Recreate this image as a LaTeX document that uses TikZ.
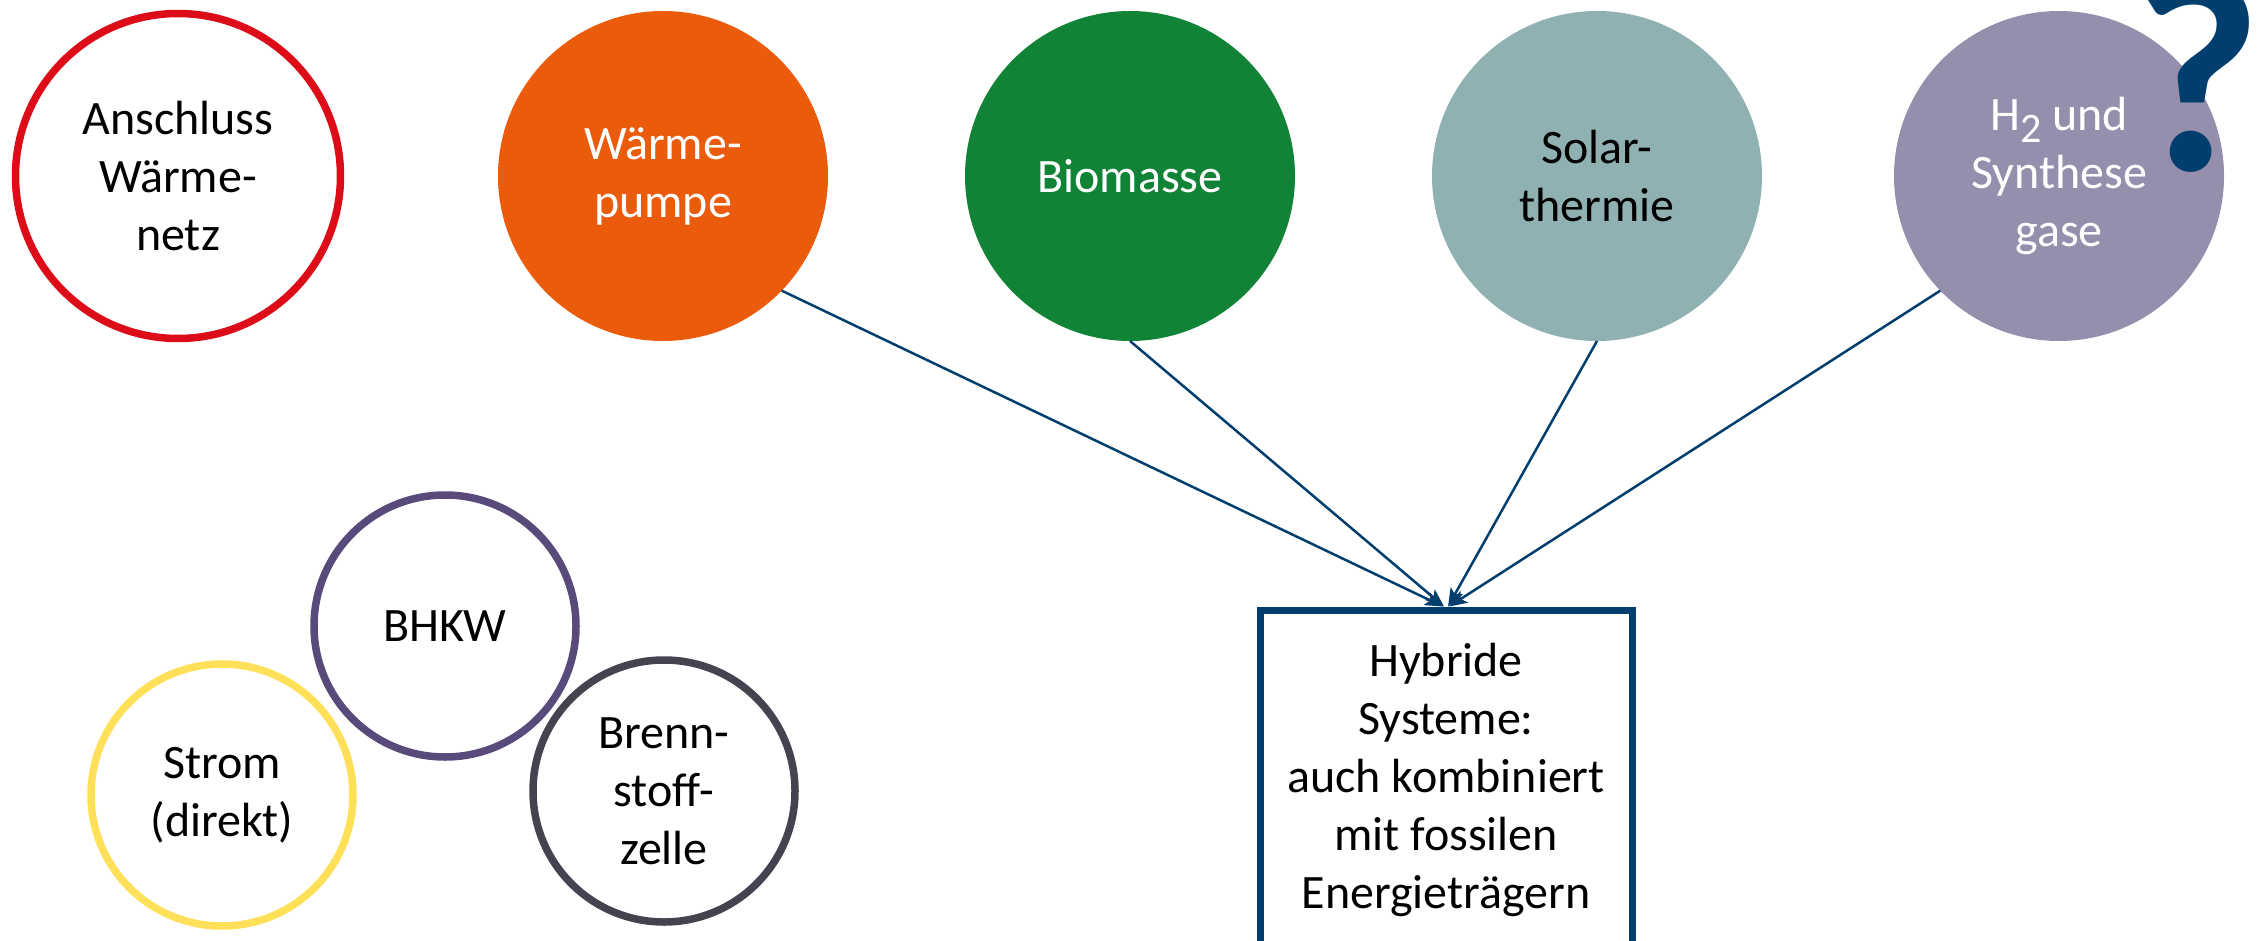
\documentclass[tikz,border=0pt]{standalone}
\usepackage{fontspec}
\setmainfont{Carlito}
\usetikzlibrary{arrows.meta}
\definecolor{cred}{RGB}{220,12,24}
\definecolor{corange}{RGB}{234,91,12}
\definecolor{cgreen}{RGB}{17,131,55}
\definecolor{csolar}{RGB}{143,177,178}
\definecolor{cpurple}{RGB}{149,142,172}
\definecolor{cblue}{RGB}{0,62,110}
\definecolor{cbhkw}{RGB}{88,74,122}
\definecolor{cyellow}{RGB}{255,224,88}
\definecolor{cgrey}{RGB}{69,67,80}
\tikzset{
  txt/.style={font=\fontsize{48}{58}\selectfont, align=center},
  ring/.style={circle, txt, draw=#1, line width=7.5pt, inner sep=0pt, outer sep=0pt},
  bigring/.style={ring=#1, minimum size=325pt},
  smallring/.style={ring=#1, minimum size=262pt},
  disc/.style={circle, txt, fill=#1, inner sep=0pt, outer sep=0pt, minimum size=330pt},
  hybbox/.style={rectangle, txt, draw=cblue, line width=7pt, inner sep=0pt, minimum width=372pt, minimum height=340pt},
  arr/.style={draw=cblue, line width=2.5pt, -{Stealth[length=18pt,width=14pt,inset=4pt]}}
}
\begin{document}
\begin{tikzpicture}[x=1pt,y=-1pt]
\useasboundingbox (0,0) rectangle (2261,941);
\node[bigring=cred] (anw) at (178,176) {Anschluss\\Wärme-\\netz};
\node[disc=corange, text=white] (wp) at (663,176) {Wärme-\\pumpe};
\node[disc=cgreen, text=white] (bio) at (1130,176) {Biomasse};
\node[disc=csolar, text=black] (sol) at (1597,176) {Solar-\\thermie};
\node[disc=cpurple, text=white] (hz) at (2059,176) {H\raisebox{-12pt}{\fontsize{42}{42}\selectfont 2} und\\Synthese\\gase};
\node[anchor=base, text=cblue, font=\fontsize{280}{280}\selectfont\bfseries, inner sep=0pt] (qm) at (2197,171) {?};
\node[smallring=cbhkw] (bhkw) at (445,626) {BHKW};
\node[smallring=cyellow] (strom) at (222,795) {Strom\\(direkt)};
\node[smallring=cgrey] (bz) at (664,791) {Brenn-\\stoff-\\zelle};
\node[hybbox] (hyb) at (1446,780) {Hybride\\Systeme:\\auch kombiniert\\mit fossilen\\Energieträgern};
\draw[arr] (wp.-44) -- ([xshift=-3pt]hyb.north);
\draw[arr] (bio.south) -- ([xshift=-2pt]hyb.north);
\draw[arr] (sol.south) -- ([xshift=2pt]hyb.north);
\draw[arr] (hz.-136) -- ([xshift=3pt]hyb.north);
\end{tikzpicture}
\end{document}
